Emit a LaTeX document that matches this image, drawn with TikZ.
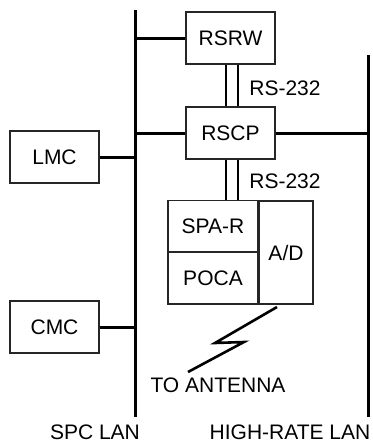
\documentclass[tikz,border=0pt]{standalone}
\usepackage{fontspec}
\setmainfont{Liberation Sans}
\usepackage{tikz}
\usetikzlibrary{positioning}

\begin{document}
\begin{tikzpicture}[
  x=0.5pt, y=-0.5pt,
  font=\fontsize{10.5}{12}\selectfont,
  unit/.style={rectangle, draw=black!85, line width=0.6pt, inner sep=0pt,
               minimum width=44.5pt, minimum height=26pt, align=center},
  bus/.style={line width=1.5pt},
  link/.style={line width=1.4pt},
  lbl/.style={inner sep=0pt}
]
\useasboundingbox (0,0) rectangle (372,445);

% the two LANs
\coordinate (spctop) at (135,10);
\coordinate (spcbot) at (135,417);
\coordinate (hrtop)  at (368,55);
\coordinate (hrbot)  at (368,417);
\draw[bus] (spctop) -- (spcbot);
\draw[bus] (hrtop) -- (hrbot);

\node[unit] (rsrw) at (230.5,38)  {RSRW};
\node[unit] (rscp) at (230.5,133) {RSCP};
\node[unit] (lmc)  at (54.5,157)  {LMC};
\node[unit] (cmc)  at (54.5,327)  {CMC};

\node[unit, minimum width=45pt] (spar) at (213,226.5) {SPA-R};
\node[unit, minimum width=45pt] (poca) at (213,278)   {POCA};
\node[unit, minimum width=27pt, minimum height=51.5pt] (ad) at (286,252.5) {A/D};

\draw[bus] (rsrw.west) -- (rsrw.west -| spctop);
\draw[bus] (rscp.west) -- (rscp.west -| spctop);
\draw[bus] (lmc.east)  -- (lmc.east -| spctop);
\draw[bus] (cmc.east)  -- (cmc.east -| spctop);
\draw[bus] (rscp.east) -- (rscp.east -| hrtop);

% RS-232 double links
\draw[link] ([xshift=-2.25pt]rsrw.south) -- ([xshift=-2.25pt]rscp.north);
\draw[link] ([xshift=3.75pt]rsrw.south)  -- ([xshift=3.75pt]rscp.north);
\draw[link] ([xshift=-2.25pt]rscp.south) -- ([xshift=-2.25pt]rscp.south |- spar.north);
\draw[link] ([xshift=3.75pt]rscp.south)  -- ([xshift=3.75pt]rscp.south |- spar.north);

\node[lbl, anchor=west] (rs1) at (249,88)  {RS-232};
\node[lbl, anchor=west] (rs2) at (249,181) {RS-232};

% lightning to the antenna
\coordinate (zz) at (277,307);
\draw[line width=1.3pt] (zz) -- ++(-62,36) -- ++(29,-1) -- ++(-56,30);

\node[lbl] (ant) at (218,385) {TO ANTENNA};
\node[lbl] (spc) at (95,432)  {SPC LAN};
\node[lbl] (hr)  at (290,432) {HIGH-RATE LAN};

\end{tikzpicture}
\end{document}
